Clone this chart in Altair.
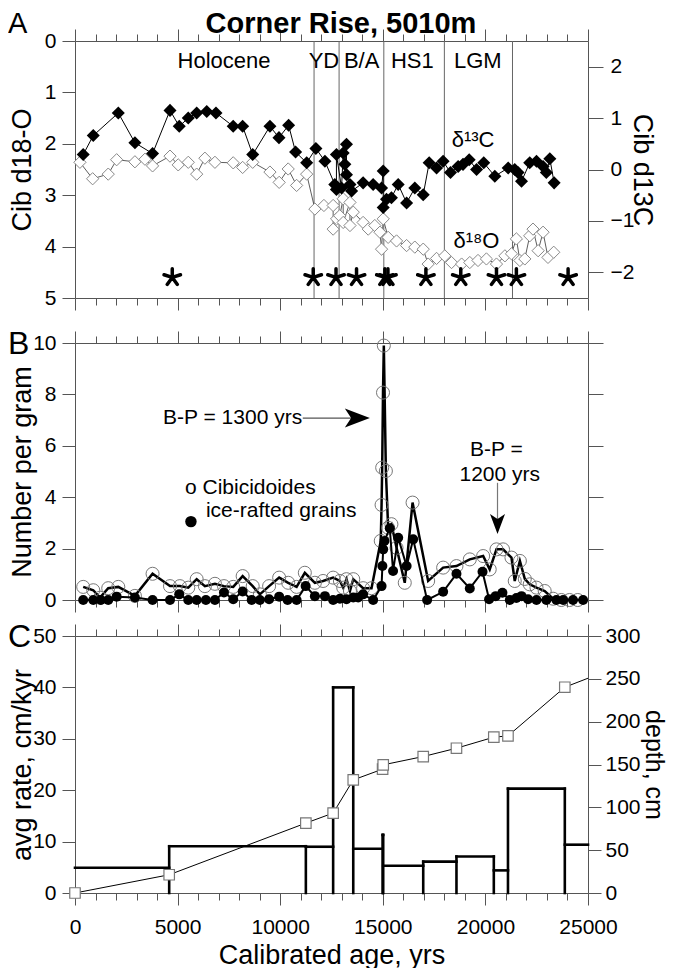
import altair as alt
import pandas as pd

FONT = "Liberation Sans"
AXC = "#555"
W, H = 513, 257

# ---------------- Panel A: Cibicidoides isotopes ----------------
d13c_age = [400, 890, 2110, 2920, 3780, 4630, 5080, 5520, 5930, 6420, 6870, 7710, 8170, 8660, 9500,
            9940, 10410, 10750, 11290, 11740, 12180, 12660, 12740, 12740, 12990, 13070, 13150, 13230,
            13230, 13400, 13480, 14040, 14530, 14940, 15020, 15020, 15180, 15420, 15750, 16160, 16560,
            16970, 17260, 17620, 17940, 18300, 18670, 18910, 19210, 19570, 19920, 20460, 21110, 21430,
            21590, 21760, 22160, 22490, 22810, 22970, 23140, 23350]
d13c_val = [0.29, 0.66, 1.10, 0.52, 0.31, 1.15, 0.84, 1.00, 1.10, 1.13, 1.10, 0.84, 0.84, 0.29, 0.84,
            0.62, 0.86, 0.34, 0.13, 0.41, 0.16, -0.29, -0.39, 0.29, -0.36, 0.32, 0.10, 0.49,
            -0.10, -0.29, -0.42, -0.26, -0.29, -0.36, -0.03, -0.74, -0.58, -0.55, -0.29, -0.65, -0.36,
            -0.49, 0.13, 0.03, 0.16, -0.06, 0.06, 0.10, 0.19, 0.00, 0.13, -0.13, 0.03, 0.00,
            -0.06, -0.23, 0.13, 0.16, 0.06, -0.06, 0.21, -0.26]

d18o_age = [240, 860, 1620, 2030, 2920, 3410, 3780, 4630, 5030, 5520, 5930, 6330, 6820, 7710, 8170,
            8660, 9500, 9950, 10390, 10800, 11290, 11690, 12130, 12580, 12580, 12750, 12900, 13070,
            13070, 13400, 13400, 13560, 14040, 14290, 14610, 14860, 14940, 15020, 15260, 15670, 16160,
            16560, 16970, 17210, 17620, 18020, 18350, 18840, 19240, 19640, 20050, 20540, 20950, 21270,
            21510, 21680, 21920, 22160, 22320, 22570, 22810, 23050, 23330]
d18o_val = [2.36, 2.68, 2.59, 2.31, 2.35, 2.30, 2.43, 2.24, 2.41, 2.36, 2.59, 2.28, 2.36, 2.37, 2.46,
            2.36, 2.55, 2.75, 2.49, 2.81, 2.59, 3.27, 3.20, 3.20, 3.66, 3.46, 3.40, 3.07,
            3.53, 3.14, 3.59, 3.33, 3.53, 3.66, 3.59, 3.72, 4.05, 3.46, 3.82, 3.89, 3.98,
            4.01, 4.05, 4.34, 4.23, 4.18, 4.31, 4.34, 4.31, 4.27, 4.24, 4.34, 4.18, 4.14,
            3.85, 4.27, 4.24, 3.79, 3.66, 4.08, 3.72, 4.21, 4.11]

period_bounds = [11650, 12870, 15050, 18000, 21320]
period_names = ["Holocene", "YD", "B/A", "HS1", "LGM"]
period_label_age = [7260, 12130, 13970, 16440, 19630]
asterisk_age = [4740, 11610, 12720, 13720, 15100, 15250, 17100, 18800, 20540, 21510, 24030]

# ---------------- Panel B: number per gram ----------------
cib_age = [400, 890, 1220, 1620, 2110, 2920, 3780, 4630, 5110, 5520, 5930, 6330, 6820, 7260, 7710,
           8170, 8660, 9010, 9460, 9950, 10390, 10800, 11200, 11690, 12090, 12580, 12910, 13070,
           13230, 13400, 13560, 14040, 14450, 14900, 14940, 14970, 15010, 15050, 15150, 15260, 15420,
           15670, 16070, 16450, 17210, 17940, 18590, 19240, 19890, 20210, 20540, 20860, 21270, 21430,
           21680, 21920, 22160, 22490, 22890, 23300, 23700, 24100, 24500]
cib_val = [0.51, 0.38, 0.09, 0.46, 0.51, 0.16, 1.02, 0.54, 0.54, 0.48, 0.81, 0.54, 0.63, 0.54, 0.51,
           0.93, 0.54, 0.22, 0.54, 0.87, 0.67, 0.51, 1.06, 0.67, 0.74, 0.87, 0.74, 0.48,
           0.81, 0.35, 0.81, 0.46, 0.46, 2.30, 3.70, 5.15, 8.07, 9.90, 5.02, 2.81, 2.95,
           2.03, 0.67, 3.79, 0.74, 1.26, 1.32, 1.58, 1.71, 1.19, 1.97, 1.97, 1.65, 0.74,
           1.52, 0.82, 0.61, 0.48, 0.35, 0.05, 0.0, 0.0, 0.0]

ird_age = [400, 890, 1260, 1620, 2030, 2920, 3780, 4630, 5080, 5520, 5930, 6380, 6820, 7260, 7710,
           8170, 8610, 9010, 9460, 9950, 10360, 10800, 11240, 11690, 12180, 12580, 12910, 13230,
           13560, 13800, 14040, 14530, 14940, 14980, 15020, 15080, 15340, 15500, 15750, 16160, 16480,
           17160, 17940, 18590, 19240, 19860, 20180, 20500, 20830, 21190, 21510, 21760, 22080, 22490,
           22970, 23460, 23790, 24270, 24760]
ird_val = [0, 0, 0, 0, 0.13, 0.10, 0, 0, 0.22, 0, 0, 0, 0, 0.29, 0.03,
           0.33, 0, 0, 0.03, 0.13, 0, 0, 0.54, 0.15, 0.15, 0, 0.05, 0.03,
           0.10, 0.10, 0.22, 0, 0.54, 1.32, 1.97, 2.30, 2.79, 1.13, 2.42, 1.32, 2.36,
           0, 0.32, 1.02, 0.45, 1.10, 0.03, 0.15, 0.28, 0, 0.08, 0.15, 0.03, 0,
           0, 0, 0, 0, 0]

# ---------------- Panel C: sedimentation ----------------
rate_start = [0, 4590, 11250, 12580, 13560, 14990, 15020, 16970, 18590, 20410, 21100, 23870]
rate_end = [4590, 11250, 12580, 13560, 14990, 15020, 16970, 18590, 20410, 21100, 23870, 25000]
rate_val = [4.9, 9.1, 9.0, 40.0, 8.6, 11.3, 5.3, 6.1, 7.1, 4.4, 20.3, 9.4]

depth_age = [0, 4590, 11250, 12580, 13560, 14990, 15020, 16970, 18590, 20410, 21100, 23870, 25000]
depth_cm = [0, 21.3, 81.6, 93.3, 132, 144.6, 149.6, 159.3, 169, 181.9, 183.4, 240.2, 250.7]

# ---------------- helpers ----------------
XS = alt.Scale(domain=[0, 25000], nice=False, zero=False)
XVALS = list(range(0, 25001, 1000))
XTICK = {"condition": {"test": "datum.value % 5000 === 0", "value": 12}, "value": 7}


def xb(field, labels=False, title=None):
    if labels:
        ax = alt.Axis(orient="bottom", values=XVALS, tickSize=XTICK, format="d", labelFlush=False,
                      labelOverlap=False, labelExpr="datum.value % 5000 === 0 ? datum.label : ''",
                      labelPadding=11, title=title, titlePadding=5, grid=False)
    else:
        ax = alt.Axis(orient="bottom", values=XVALS, tickSize=XTICK, labels=False, title=None, grid=False)
    return alt.X(field, type="quantitative", scale=XS, axis=ax)


def xt(field):
    return alt.X(field, type="quantitative", scale=XS,
                 axis=alt.Axis(orient="top", values=XVALS, tickSize=XTICK, labels=False, title=None, grid=False))


def xn(field):
    return alt.X(field, type="quantitative", scale=XS, axis=None)


def yn(field, scale):
    return alt.Y(field, type="quantitative", scale=scale, axis=None)


def pix_text(txt, x, y, size, weight="normal", align="left"):
    return alt.Chart(pd.DataFrame({"t": [txt]})).mark_text(
        fontSize=size, fontWeight=weight, align=align, baseline="alphabetic", color="black", font=FONT
    ).encode(x=alt.value(x), y=alt.value(y), text="t:N")


# ---------------- Panel A ----------------
Y18 = alt.Scale(domain=[0, 5], reverse=True, nice=False, zero=False)
Y13 = alt.Scale(domain=[-2.5, 2.5], nice=False, zero=False)

dA13 = pd.DataFrame({"age": d13c_age, "v": d13c_val, "i": list(range(len(d13c_age)))})
dA18 = pd.DataFrame({"age": d18o_age, "v": d18o_val, "i": list(range(len(d18o_age)))})
dPer = pd.DataFrame({"age": period_bounds})
dPerLab = pd.DataFrame({"age": period_label_age, "name": period_names})
dAst = pd.DataFrame({"age": asterisk_age})
dDelta = pd.DataFrame({"age": [19400, 19560], "y": [1.92, 3.89], "t": ["δ¹³C", "δ¹⁸O"]})

ASTER = ("M0,0L0,-1M0,0L0.951,-0.309M0,0L-0.951,-0.309M0,0L0.588,0.809M0,0L-0.588,0.809")

a_per = alt.Chart(dPer).mark_rule(color="#666", strokeWidth=1).encode(x=xt("age"))
a_o18_line = alt.Chart(dA18).mark_line(color="#333", strokeWidth=0.8).encode(
    x=xb("age"),
    y=alt.Y("v", type="quantitative", scale=Y18,
            axis=alt.Axis(orient="left", values=[0, 1, 2, 3, 4, 5], tickSize=13, labelPadding=6,
                          title="Cib d18-O", titlePadding=8, grid=False)),
    order="i:Q")
a_o18_pts = alt.Chart(dA18).mark_point(shape="diamond", filled=True, fill="white", stroke="#888",
                                       strokeWidth=1, size=150, opacity=1).encode(
    x=xn("age"), y=yn("v", Y18))
a_c13_line = alt.Chart(dA13).mark_line(color="black", strokeWidth=1).encode(
    x=xn("age"),
    y=alt.Y("v", type="quantitative", scale=Y13,
            axis=alt.Axis(orient="right", values=[-2, -1, 0, 1, 2], tickSize=15, labelPadding=7,
                          title="Cib d13C", titlePadding=-6, grid=False)),
    order="i:Q")
a_c13_pts = alt.Chart(dA13).mark_point(shape="diamond", filled=True, color="black", size=170,
                                       opacity=1).encode(x=xn("age"), y=yn("v", Y13))
a_perlab = alt.Chart(dPerLab).mark_text(fontSize=22, baseline="middle", font=FONT, color="black").encode(
    x=xn("age"), y=alt.Y("yy:Q", scale=Y18, axis=None), text="name:N").transform_calculate(yy="0.39")
a_ast = alt.Chart(dAst).mark_point(shape=ASTER, filled=False, color="black", strokeWidth=3.5,
                                   size=300, opacity=1, strokeCap="round").encode(
    x=xn("age"), y=alt.Y("yy:Q", scale=Y18, axis=None)).transform_calculate(yy="4.6")
a_delta = alt.Chart(dDelta).mark_text(fontSize=22, baseline="middle", font=FONT, color="black").encode(
    x=xn("age"), y=yn("y", Y18), text="t:N")
a_title = pix_text("Corner Rise, 5010m", 266, -8, 29, weight="bold", align="center")
a_letter = pix_text("A", -67, -8, 29)
a_spacer = alt.Chart(pd.DataFrame({"t": [0]})).mark_rule(color="white", strokeWidth=1).encode(
    x=alt.value(-40), y=alt.value(H), y2=alt.value(H + 22))

panelA = alt.layer(a_per, a_o18_line, a_o18_pts, a_c13_line, a_c13_pts, a_perlab, a_ast, a_delta,
                   a_title, a_letter, a_spacer).resolve_scale(y="independent").resolve_axis(
    x="independent", y="independent").properties(width=W, height=H)

# ---------------- Panel B ----------------
YB = alt.Scale(domain=[0, 10], nice=False, zero=False)
dCib = pd.DataFrame({"age": cib_age, "v": cib_val})
dIrd = pd.DataFrame({"age": ird_age, "v": ird_val})

b_cib_line = alt.Chart(dCib).mark_line(color="black", strokeWidth=2.5).encode(
    x=xb("age"),
    y=alt.Y("v", type="quantitative", scale=YB,
            axis=alt.Axis(orient="left", values=[0, 2, 4, 6, 8, 10], tickSize=13, labelPadding=6,
                          title="Number per gram", titlePadding=-4, grid=False)))
b_cib_pts = alt.Chart(dCib).mark_point(shape="circle", filled=False, color="#777", strokeWidth=1,
                                       size=170, opacity=1).encode(x=xn("age"), y=yn("v", YB))
b_ird_line = alt.Chart(dIrd).mark_line(color="black", strokeWidth=2).encode(
    x=xn("age"),
    y=alt.Y("v", type="quantitative", scale=YB,
            axis=alt.Axis(orient="right", values=[0, 2, 4, 6, 8, 10], tickSize=15, labels=False,
                          title=None, grid=False)))
b_ird_pts = alt.Chart(dIrd).mark_point(shape="circle", filled=True, color="black", size=100,
                                       opacity=1).encode(x=xn("age"), y=yn("v", YB))

dArrH = pd.DataFrame({"a1": [11100], "a2": [13900], "y": [7.08]})
dArrV = pd.DataFrame({"a": [20590], "y1": [4.56], "y2": [3.0]})
b_arrh = alt.Chart(dArrH).mark_rule(color="#555", strokeWidth=1.2).encode(
    x=xt("a1"), x2="a2", y=yn("y", YB))
b_arrv = alt.Chart(dArrV).mark_rule(color="#777", strokeWidth=1.2).encode(
    x=xn("a"), y=yn("y1", YB), y2="y2")
b_headh = alt.Chart(pd.DataFrame({"a": [13760], "y": [7.08]})).mark_point(
    shape="M1,0L-1,-0.76L-0.5,0L-1,0.76Z", filled=True, color="black", size=625, opacity=1).encode(
    x=xn("a"), y=yn("y", YB))
b_headv = alt.Chart(pd.DataFrame({"a": [20590], "y": [2.96]})).mark_point(
    shape="M0,1L-0.75,-1L0,-0.5L0.75,-1Z", filled=True, color="black", size=400, opacity=1).encode(
    x=xn("a"), y=yn("y", YB))
dBtxt = pd.DataFrame({"a": [4290, 5360, 6380], "y": [7.08, 4.37, 3.46],
                      "t": ["B-P = 1300 yrs", "o  Cibicidoides", "ice-rafted grains"]})
b_txt = alt.Chart(dBtxt).mark_text(fontSize=21, align="left", baseline="middle", font=FONT,
                                   color="black").encode(x=xn("a"), y=yn("y", YB), text="t:N")
dBtxt2 = pd.DataFrame({"a": [20530, 20700], "y": [5.84, 4.86], "t": ["B-P =", "1200 yrs"]})
b_txt2 = alt.Chart(dBtxt2).mark_text(fontSize=21, align="center", baseline="middle", font=FONT,
                                     color="black").encode(x=xn("a"), y=yn("y", YB), text="t:N")
b_legdot = alt.Chart(pd.DataFrame({"a": [5650], "y": [3.05]})).mark_point(
    shape="circle", filled=True, color="black", size=130, opacity=1).encode(x=xn("a"), y=yn("y", YB))
b_letter = pix_text("B", -67, 11, 32)

panelB = alt.layer(b_cib_line, b_cib_pts, b_ird_line, b_ird_pts, b_arrh, b_arrv, b_headh, b_headv,
                   b_txt, b_txt2, b_legdot, b_letter).resolve_scale(y="independent").resolve_axis(
    x="independent", y="independent").properties(width=W, height=H)

# ---------------- Panel C ----------------
YR = alt.Scale(domain=[0, 50], nice=False, zero=False)
YD = alt.Scale(domain=[0, 300], nice=False, zero=False)

dRate = pd.DataFrame({"s": rate_start, "e": rate_end, "r": rate_val})
bnd_age, bnd_h = [], []
for i in range(1, len(rate_start)):
    bnd_age.append(rate_start[i])
    bnd_h.append(max(rate_val[i - 1], rate_val[i]))
dBnd = pd.DataFrame({"a": bnd_age, "h": bnd_h, "lo": [0] * len(bnd_age)})
dDepth = pd.DataFrame({"age": depth_age, "d": depth_cm})

c_tops = alt.Chart(dRate).mark_rule(color="black", strokeWidth=2.6, strokeCap="square").encode(
    x=xb("s", labels=True, title="Calibrated age, yrs"), x2="e",
    y=alt.Y("r", type="quantitative", scale=YR,
            axis=alt.Axis(orient="left", values=[0, 10, 20, 30, 40, 50], tickSize=13, labelPadding=6,
                          title="avg rate, cm/kyr", titlePadding=-4, grid=False)))
c_sides = alt.Chart(dBnd).mark_rule(color="black", strokeWidth=2.6, strokeCap="square").encode(
    x=xt("a"), y=yn("lo", YR), y2="h")
c_line = alt.Chart(dDepth).mark_line(color="black", strokeWidth=1).encode(
    x=xn("age"),
    y=alt.Y("d", type="quantitative", scale=YD,
            axis=alt.Axis(orient="right", values=[0, 50, 100, 150, 200, 250, 300], tickSize=13,
                          labelPadding=4, title="depth, cm", titlePadding=0, titleFontSize=25,
                          grid=False)))
c_pts = alt.Chart(dDepth.iloc[:-1]).mark_point(shape="square", filled=True, fill="white", stroke="#777",
                                               strokeWidth=1.2, size=110, opacity=1).encode(
    x=xn("age"), y=yn("d", YD))
c_letter = pix_text("C", -67, 10.5, 32)

panelC = alt.layer(c_tops, c_sides, c_line, c_pts, c_letter).resolve_scale(y="independent").resolve_axis(
    x="independent", y="independent").properties(width=W, height=H)

chart = alt.vconcat(panelA, panelB, panelC, spacing=7).properties(
    padding={"left": 0, "top": 2, "right": 3, "bottom": 0}
).configure(font=FONT).configure_view(stroke=None).configure_axis(
    labelFont=FONT, titleFont=FONT, labelFontSize=21, titleFontSize=27, titleFontWeight="normal",
    labelColor="black", titleColor="black", domainColor=AXC, tickColor=AXC, domainWidth=1,
    tickWidth=1, grid=False)

chart.save("out.html", embed_options={"renderer": "svg", "actions": False})
